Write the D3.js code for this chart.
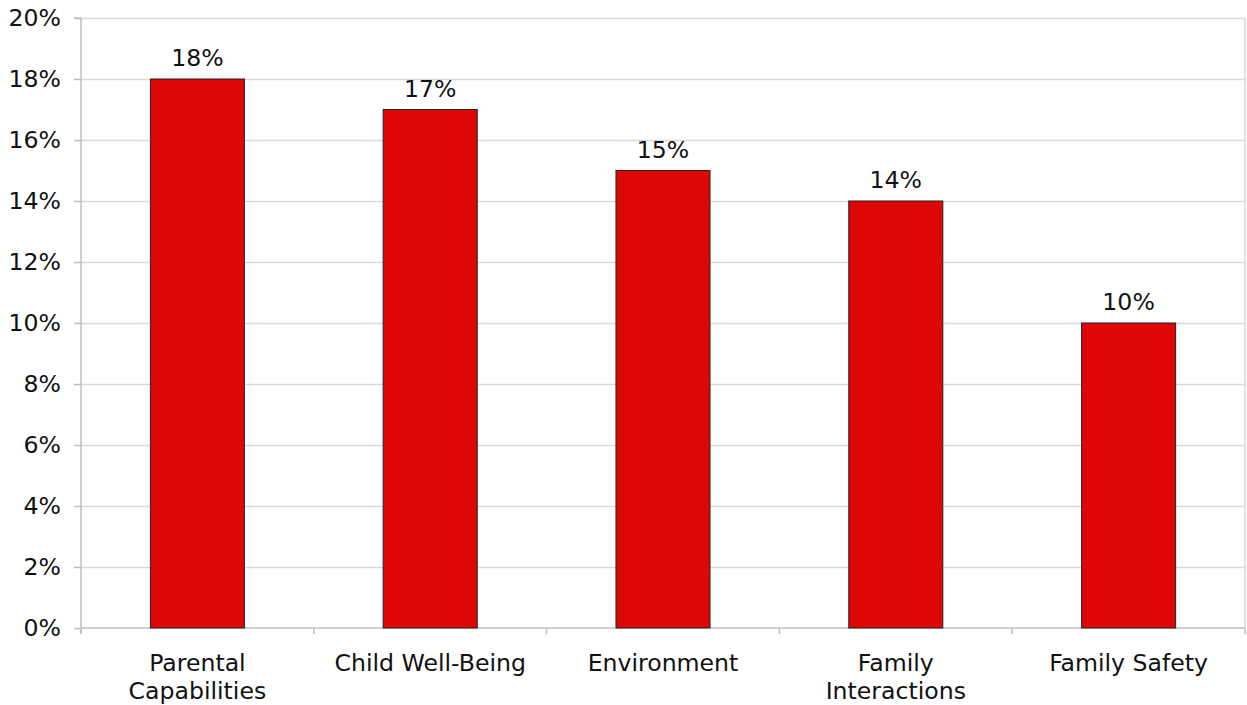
<!DOCTYPE html>
<html>
<head>
<meta charset="utf-8">
<script src="https://cdn.jsdelivr.net/npm/d3@7"></script>
<style>
  body { margin: 0; background: #fff; }
  text { font-family: "DejaVu Sans", Verdana, sans-serif; fill: #111; }
</style>
</head>
<body>
<script>
// data
const categories = [["Parental", "Capabilities"], ["Child Well-Being"], ["Environment"], ["Family", "Interactions"], ["Family Safety"]];
const values = [0.18, 0.17, 0.15, 0.14, 0.10];
const yTicks = [0, 0.02, 0.04, 0.06, 0.08, 0.10, 0.12, 0.14, 0.16, 0.18, 0.20];

const WIDTH = 1247, HEIGHT = 705;
const plotLeft = 81, plotRight = 1245, plotTop = 18, plotBottom = 628;
const FS = 23.6;

const svg = d3.select("body").append("svg")
  .attr("width", WIDTH).attr("height", HEIGHT);

const y = d3.scaleLinear().domain([0, 0.2]).range([plotBottom, plotTop]);
const x = d3.scaleBand().domain(d3.range(categories.length))
  .range([plotLeft, plotRight]).paddingInner(0.596).paddingOuter(0.298);
const step = (plotRight - plotLeft) / categories.length;

// gridlines
svg.append("g").selectAll("line")
  .data(yTicks.slice(1))
  .enter().append("line")
  .attr("x1", plotLeft).attr("x2", plotRight)
  .attr("y1", d => y(d) + 0.5).attr("y2", d => y(d) + 0.5)
  .attr("stroke", "#d9d9d9").attr("stroke-width", 1.5);

// right border
svg.append("line")
  .attr("x1", plotRight).attr("x2", plotRight).attr("y1", plotTop).attr("y2", plotBottom)
  .attr("stroke", "#d9d9d9").attr("stroke-width", 1.5);

// y axis
const yAxis = svg.append("g").attr("transform", `translate(${plotLeft},0)`)
  .call(d3.axisLeft(y).tickValues(yTicks).tickFormat(d3.format(".0%")).tickSize(7).tickPadding(13));
yAxis.select(".domain").attr("stroke", "#c0c0c0").attr("stroke-width", 1.5)
  .attr("d", `M-7,${plotTop}H0V${plotBottom + 6}`);
yAxis.selectAll(".tick line").attr("stroke", "#c0c0c0").attr("stroke-width", 1.5);
yAxis.selectAll(".tick text").attr("font-size", FS).attr("fill", "#111")
  .attr("font-family", "DejaVu Sans, Verdana, sans-serif");

// x axis line + boundary ticks
svg.append("line")
  .attr("x1", plotLeft).attr("x2", plotRight).attr("y1", plotBottom).attr("y2", plotBottom)
  .attr("stroke", "#c0c0c0").attr("stroke-width", 1.5);
svg.append("g").selectAll("line")
  .data(d3.range(categories.length + 1))
  .enter().append("line")
  .attr("x1", d => plotLeft + d * step).attr("x2", d => plotLeft + d * step)
  .attr("y1", plotBottom).attr("y2", plotBottom + 6)
  .attr("stroke", "#c0c0c0").attr("stroke-width", 1.5);

// bars
svg.append("g").selectAll("rect")
  .data(values)
  .enter().append("rect")
  .attr("x", (d, i) => x(i))
  .attr("y", d => y(d))
  .attr("width", x.bandwidth())
  .attr("height", d => plotBottom - y(d))
  .attr("fill", "#dd0806")
  .attr("stroke", "#222").attr("stroke-width", 1);

// value labels
svg.append("g").selectAll("text")
  .data(values)
  .enter().append("text")
  .attr("x", (d, i) => x(i) + x.bandwidth() / 2)
  .attr("y", d => y(d) - 13)
  .attr("text-anchor", "middle")
  .attr("font-size", FS)
  .text(d => d3.format(".0%")(d));

// category labels
const cat = svg.append("g").selectAll("text")
  .data(categories)
  .enter().append("text")
  .attr("text-anchor", "middle")
  .attr("font-size", FS)
  .attr("transform", (d, i) => `translate(${x(i) + x.bandwidth() / 2},${plotBottom + 43})`);
cat.selectAll("tspan")
  .data(d => d)
  .enter().append("tspan")
  .attr("x", 0)
  .attr("dy", (d, i) => i === 0 ? 0 : 28)
  .text(d => d);
</script>
</body>
</html>
